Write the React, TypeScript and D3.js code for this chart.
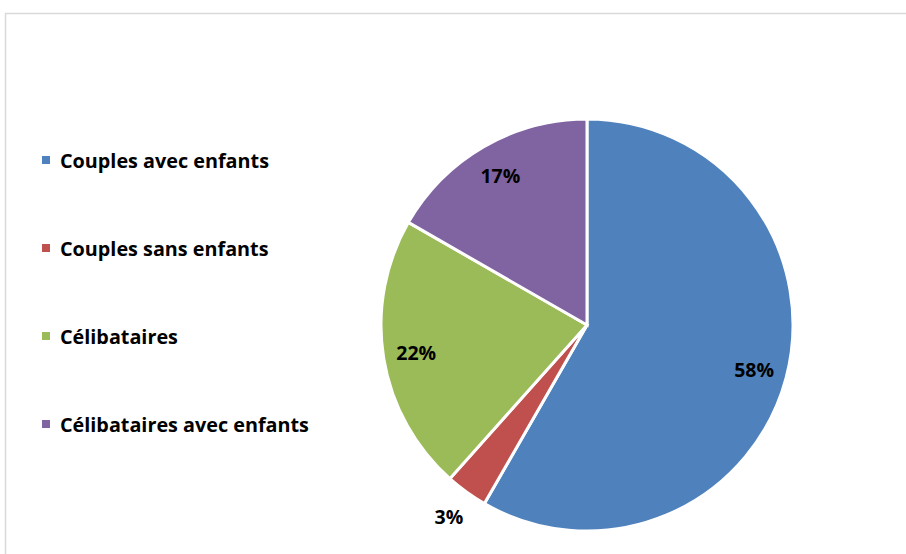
import * as d3 from 'd3';

const categories = ['Couples avec enfants', 'Couples sans enfants', 'Célibataires', 'Célibataires avec enfants'];
const shares = [58.3, 3.3, 21.7, 16.7];
const colors = ['#4F81BD', '#C0504D', '#9BBB59', '#8064A2'];

interface Slice {
  name: string;
  value: number;
  color: string;
}

const data: Slice[] = categories.map((name, i) => ({ name, value: shares[i], color: colors[i] }));

export default function App() {
  const width = 906;
  const height = 554;
  const cx = 587;
  const cy = 325;
  const radius = 206;

  const pie = d3.pie<Slice>().sort(null).value(d => d.value);
  const arcs = pie(data);
  const arc = d3.arc<d3.PieArcDatum<Slice>>().innerRadius(0).outerRadius(radius);
  const labelArc = d3.arc<d3.PieArcDatum<Slice>>().innerRadius(173).outerRadius(173);
  const outerLabelArc = d3.arc<d3.PieArcDatum<Slice>>().innerRadius(236).outerRadius(236);

  const total = d3.sum(shares);
  const font = '"Open Sans", Lato, sans-serif';

  const legendY = d3.scalePoint<string>().domain(categories).range([160, 424]);

  return (
    <svg width={width} height={height} style={{ position: 'absolute', left: 0, top: 0 }}>
      <rect x={0} y={0} width={width} height={height} fill="#fff" />
      <rect x={5.5} y={13.5} width={width + 20} height={height + 20} fill="none" stroke="#d9d9d9" strokeWidth={1.5} />
      <g transform={`translate(${cx},${cy})`}>
        {arcs.map((a, i) => (
          <path key={i} d={arc(a) || ''} fill={a.data.color} stroke="#fff" strokeWidth={3} />
        ))}
        {arcs.map((a, i) => {
          const small = a.data.value / total < 0.05;
          const [x, y] = small ? outerLabelArc.centroid(a) : labelArc.centroid(a);
          return (
            <text
              key={i}
              x={x}
              y={y}
              textAnchor="middle"
              dominantBaseline="central"
              fontFamily={font}
              fontWeight="bold"
              fontSize={19.5}
              fill="#000"
            >
              {Math.round((a.data.value / total) * 100)}%
            </text>
          );
        })}
      </g>
      <g>
        {data.map(d => (
          <g key={d.name} transform={`translate(0,${legendY(d.name)})`}>
            <rect x={42} y={-4} width={8} height={8} fill={d.color} />
            <text x={60} y={0} dominantBaseline="central" fontFamily={font} fontWeight="bold" fontSize={19.8} fill="#000">
              {d.name}
            </text>
          </g>
        ))}
      </g>
    </svg>
  );
}
